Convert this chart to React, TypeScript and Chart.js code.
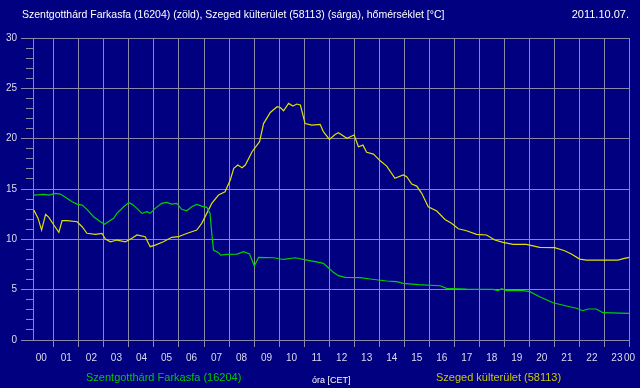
import React, { useEffect, useRef } from "react";
import { Chart, registerables } from "chart.js";

Chart.register(...registerables);

const TITLE = "Szentgotthárd Farkasfa (16204) (zöld), Szeged külterület (58113) (sárga), hőmérséklet [°C]";
const DATE_TEXT = "2011.10.07.";
const GREEN_NAME = "Szentgotthárd Farkasfa (16204)";
const YELLOW_NAME = "Szeged külterület (58113)";
const X_TITLE = "óra [CET]";

const hourLabels = ["00","01","02","03","04","05","06","07","08","09","10","11","12","13","14","15","16","17","18","19","20","21","22","23"];
const endLabel = "00";

// Szentgotthárd Farkasfa (green): time in hours, temperature in °C
const greenHours = [0.2,0.6,0.8,1.06,1.26,1.46,1.73,1.93,2.13,2.32,2.59,2.86,3.03,3.26,3.39,3.52,3.79,3.99,4.12,4.32,4.52,4.72,4.85,5.05,5.31,5.51,5.71,5.91,6.11,6.31,6.51,6.71,6.91,7.11,7.24,7.31,7.38,7.58,7.66,7.92,8.32,8.58,8.82,9.01,9.18,9.78,10.18,10.65,11.11,11.44,11.77,11.97,12.17,12.37,12.64,13.24,13.64,13.97,14.3,14.7,14.96,15.56,16.43,16.69,17.49,18.55,18.75,18.89,19.09,19.75,20.02,20.41,20.95,21.48,21.88,22.14,22.34,22.67,22.94,24.0];
const greenTemps = [14.4,14.47,14.4,14.57,14.5,14.17,13.73,13.5,13.4,12.98,12.25,11.75,11.5,11.9,12.08,12.58,13.24,13.64,13.5,13.08,12.58,12.74,12.58,13.08,13.57,13.67,13.5,13.57,12.98,12.84,13.24,13.47,13.3,13.18,12.58,10.6,8.94,8.67,8.44,8.5,8.54,8.77,8.54,7.35,8.2,8.17,8.0,8.17,7.94,7.78,7.62,7.18,6.72,6.39,6.23,6.19,6.06,5.96,5.86,5.79,5.63,5.5,5.39,5.13,5.06,5.03,4.9,5.1,4.9,4.9,4.8,4.3,3.7,3.38,3.15,2.91,3.08,3.08,2.71,2.65];

// Szeged külterület (yellow)
const yellowHours = [0.2,0.37,0.51,0.67,0.8,1.0,1.2,1.33,1.53,1.93,2.13,2.32,2.66,2.92,3.06,3.26,3.52,3.86,4.12,4.32,4.65,4.85,5.05,5.38,5.71,5.98,6.25,6.51,6.71,6.91,7.11,7.31,7.58,7.84,8.05,8.19,8.35,8.52,8.65,8.92,9.22,9.38,9.65,9.92,10.05,10.18,10.38,10.55,10.71,10.85,11.04,11.31,11.64,11.77,12.01,12.24,12.37,12.71,13.0,13.17,13.35,13.5,13.77,14.04,14.3,14.63,14.96,15.1,15.3,15.5,15.7,15.96,16.3,16.63,16.89,17.16,17.49,17.89,18.29,18.62,18.95,19.35,19.88,20.41,21.01,21.41,21.68,22.01,22.28,23.54,23.8,24.0];
const yellowTemps = [12.9,12.08,10.92,12.48,12.18,11.42,10.7,11.85,11.85,11.75,11.25,10.6,10.49,10.6,10.03,9.76,9.93,9.76,10.1,10.43,10.26,9.27,9.43,9.76,10.2,10.26,10.53,10.75,10.92,11.59,12.58,13.57,14.4,14.73,15.89,17.05,17.38,17.11,17.38,18.7,19.7,21.5,22.6,23.17,23.1,22.77,23.5,23.24,23.44,23.34,21.5,21.35,21.42,20.7,19.93,20.42,20.59,20.03,20.36,19.2,19.36,18.64,18.47,17.8,17.28,16.06,16.39,16.22,15.49,15.29,14.57,13.24,12.81,11.98,11.59,11.05,10.85,10.49,10.43,9.93,9.7,9.5,9.5,9.2,9.17,8.87,8.54,8.04,7.94,7.94,8.11,8.2];

const BG = "#000080";
const GRID = "#8a8aa8";
const TICK_TEXT = "#dcdcec";
const GREEN_LINE = "#00d000";
const YELLOW_LINE = "#e0e000";
const GREEN_TEXT = "#00c800";
const YELLOW_TEXT = "#c8c800";
const FONT_FAMILY = '"Liberation Sans", Arial, sans-serif';

const tickValues: number[] = [];
for (let i = 1; i <= 48; i++) tickValues.push(i * 0.5);

const isHour = (v: number) => Math.abs(v - Math.round(v)) < 1e-6;

const textPlugin = {
  id: "outerTexts",
  afterDraw(chart: any) {
    const ctx = chart.ctx;
    ctx.save();
    ctx.textBaseline = "middle";
    ctx.fillStyle = "#ffffff";
    ctx.textAlign = "left";
    ctx.font = `10.5px ${FONT_FAMILY}`;
    ctx.fillText(TITLE, 22, 15);
    ctx.font = `11px ${FONT_FAMILY}`;
    ctx.textAlign = "right";
    ctx.fillText(DATE_TEXT, 629, 15);
    ctx.textAlign = "left";
    ctx.fillStyle = GREEN_TEXT;
    ctx.fillText(GREEN_NAME, 86, 378);
    ctx.fillStyle = YELLOW_TEXT;
    ctx.fillText(YELLOW_NAME, 436, 378);
    ctx.restore();
  },
};

export default function App() {
  const canvasRef = useRef<HTMLCanvasElement | null>(null);

  useEffect(() => {
    if (!canvasRef.current) return;
    const chart = new Chart(canvasRef.current, {
      type: "line",
      data: {
        datasets: [
          {
            label: GREEN_NAME,
            data: greenHours.map((h, i) => ({ x: h, y: greenTemps[i] })),
            borderColor: GREEN_LINE,
            borderWidth: 1.2,
            pointRadius: 0,
            tension: 0,
            fill: false,
          },
          {
            label: YELLOW_NAME,
            data: yellowHours.map((h, i) => ({ x: h, y: yellowTemps[i] })),
            borderColor: YELLOW_LINE,
            borderWidth: 1.2,
            pointRadius: 0,
            tension: 0,
            fill: false,
          },
        ],
      },
      options: {
        animation: false,
        responsive: false,
        parsing: false,
        normalized: true,
        layout: { padding: { top: 38, right: 10, left: 0, bottom: 0 } },
        plugins: {
          legend: { display: false },
          tooltip: { enabled: false },
          title: { display: false },
        },
        scales: {
          x: {
            type: "linear",
            min: 10 / 60,
            max: 24,
            afterBuildTicks: (s: any) => {
              s.ticks = tickValues.map((v) => ({ value: v }));
            },
            afterFit: (s: any) => {
              s.height = 48;
            },
            grid: {
              color: (c: any) => (c.tick && isHour(c.tick.value) ? GRID : "transparent"),
              tickColor: (c: any) => (c.tick && isHour(c.tick.value) ? GRID : "transparent"),
              tickLength: 7,
              lineWidth: 1,
            },
            border: { color: GRID, width: 1 },
            ticks: {
              autoSkip: false,
              maxRotation: 0,
              minRotation: 0,
              color: TICK_TEXT,
              font: { family: FONT_FAMILY, size: 10 },
              padding: 5,
              callback: (v: any) => {
                const n = Number(v);
                if (Math.abs(n - 24) < 1e-6) return endLabel;
                if (!isHour(n)) return hourLabels[Math.floor(n)];
                return "";
              },
            },
            title: {
              display: true,
              text: X_TITLE,
              color: "#ffffff",
              font: { family: FONT_FAMILY, size: 9 },
              padding: { top: 0, bottom: 2 },
            },
          },
          y: {
            type: "linear",
            min: 0,
            max: 30,
            afterFit: (s: any) => {
              s.width = 33;
            },
            grid: {
              color: (c: any) => (c.tick && c.tick.value % 5 === 0 ? GRID : "transparent"),
              tickColor: GRID,
              tickLength: 12,
              tickBorderDash: (c: any) => (c.tick && c.tick.value % 5 === 0 ? [] : [0, 5, 20]),
              lineWidth: 1,
            },
            border: { color: GRID, width: 1 },
            ticks: {
              stepSize: 1,
              autoSkip: false,
              color: TICK_TEXT,
              font: { family: FONT_FAMILY, size: 10 },
              padding: 4,
              callback: (v: any) => (Number(v) % 5 === 0 ? String(v) : ""),
            },
          },
        },
      },
      plugins: [textPlugin],
    } as any);
    return () => chart.destroy();
  }, []);

  return (
    <div
      style={{
        position: "fixed",
        left: 0,
        top: 0,
        width: 640,
        height: 388,
        background: BG,
      }}
    >
      <canvas ref={canvasRef} width={640} height={388} style={{ display: "block" }} />
    </div>
  );
}
